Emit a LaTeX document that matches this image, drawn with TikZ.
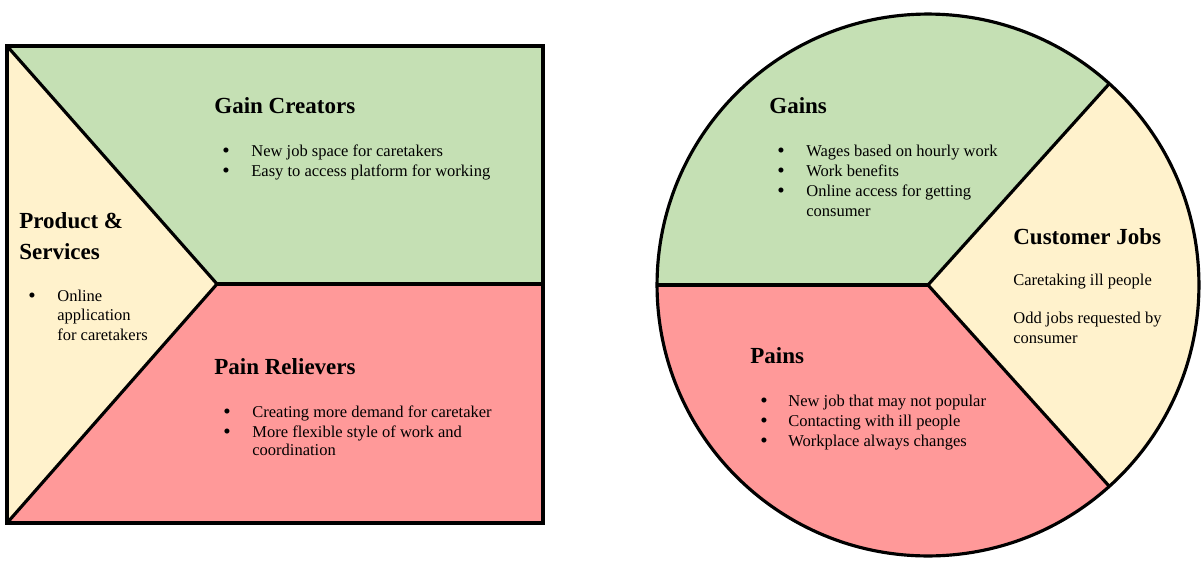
\documentclass[tikz,border=0pt]{standalone}
\usepackage{fontspec}
\setmainfont{Liberation Serif}
\usetikzlibrary{calc}
\definecolor{gaingreen}{HTML}{C5E0B4}
\definecolor{painred}{HTML}{FF9999}
\definecolor{jobcream}{HTML}{FFF2CC}
\tikzset{
  head/.style={anchor=base west, inner sep=0pt, font=\fontsize{13.1}{15}\selectfont\bfseries},
  body/.style={anchor=base west, inner sep=0pt, font=\fontsize{9.4}{11}\selectfont},
  dot/.style={anchor=base, inner sep=0pt, font=\fontsize{12}{12}\selectfont},
  edge/.style={line width=1.8pt, line join=round},
}
\begin{document}
\begin{tikzpicture}[x=0.02cm, y=-0.02cm]
  \useasboundingbox (0,0) rectangle (1203,572);
  % Value map: corner points
  \coordinate (TL) at (7,46);
  \coordinate (TR) at (543,46);
  \coordinate (BR) at (543,523);
  \coordinate (BL) at (7,523);
  \coordinate (P) at (217,284);
  \coordinate (R) at (543,284);
  % Value map: regions
  \fill[gaingreen] (TL) -- (TR) -- (R) -- (P) -- cycle;
  \fill[painred] (P) -- (R) -- (BR) -- (BL) -- cycle;
  \fill[jobcream] (TL) -- (P) -- (BL) -- cycle;
  \draw[edge] (TL) -- (P) -- (BL);
  \draw[edge] (P) -- (R);
  \draw[line width=2.3pt] (TL) rectangle (BR);

  % Value map: texts
  \node[head] (gc) at (214,113) {Gain Creators};
  \node[dot] (gc1d) at (226,157) {\textbullet};
  \node[body] (gc1) at (251,156) {New job space for caretakers};
  \node[dot] (gc2d) at (226,177) {\textbullet};
  \node[body] (gc2) at (251,176) {Easy to access platform for working};

  \node[head] (ps1) at (19,228) {Product \&};
  \node[head] (ps2) at (19,259) {Services};
  \node[dot] (ps1d) at (32,302) {\textbullet};
  \node[body] (ps3) at (57,301) {Online};
  \node[body] (ps4) at (57,320) {application};
  \node[body] (ps5) at (57,340) {for caretakers};

  \node[head] (pr) at (214,374) {Pain Relievers};
  \node[dot] (pr1d) at (227,418) {\textbullet};
  \node[body] (pr1) at (252,417) {Creating more demand for caretaker};
  \node[dot] (pr2d) at (227,438) {\textbullet};
  \node[body] (pr2) at (252,437) {More flexible style of work and};
  \node[body] (pr3) at (252,455) {coordination};

  % Customer profile: sectors
  \coordinate (O) at (928,285);
  \coordinate (U) at ($(O)+(48:5.42cm)$);
  \coordinate (D) at ($(O)+(-48:5.42cm)$);
  \coordinate (W) at ($(O)+(180:5.42cm)$);
  \fill[gaingreen] (O) -- (U) arc[start angle=48, end angle=180, radius=5.42cm] -- cycle;
  \fill[painred] (O) -- (W) arc[start angle=180, end angle=312, radius=5.42cm] -- cycle;
  \fill[jobcream] (O) -- (D) arc[start angle=-48, end angle=48, radius=5.42cm] -- cycle;
  \draw[edge] (O) circle[radius=5.42cm];
  \draw[edge] (U) -- (O) -- (D);
  \draw[edge] (O) -- (W);

  % Customer profile: texts
  \node[head] (gn) at (769,113) {Gains};
  \node[dot] (gn1d) at (781,157) {\textbullet};
  \node[body] (gn1) at (806,156) {Wages based on hourly work};
  \node[dot] (gn2d) at (781,177) {\textbullet};
  \node[body] (gn2) at (806,176) {Work benefits};
  \node[dot] (gn3d) at (781,197) {\textbullet};
  \node[body] (gn3) at (806,196) {Online access for getting};
  \node[body] (gn4) at (806,216) {consumer};

  \node[head] (cj) at (1013,244) {Customer Jobs};
  \node[body] (cj1) at (1013,285) {Caretaking ill people};
  \node[body] (cj2) at (1013,323) {Odd jobs requested by};
  \node[body] (cj3) at (1013,343) {consumer};

  \node[head] (pn) at (750,363) {Pains};
  \node[dot] (pn1d) at (764,407) {\textbullet};
  \node[body] (pn1) at (788,406) {New job that may not popular};
  \node[dot] (pn2d) at (764,427) {\textbullet};
  \node[body] (pn2) at (788,426) {Contacting with ill people};
  \node[dot] (pn3d) at (764,447) {\textbullet};
  \node[body] (pn3) at (788,446) {Workplace always changes};
\end{tikzpicture}
\end{document}
